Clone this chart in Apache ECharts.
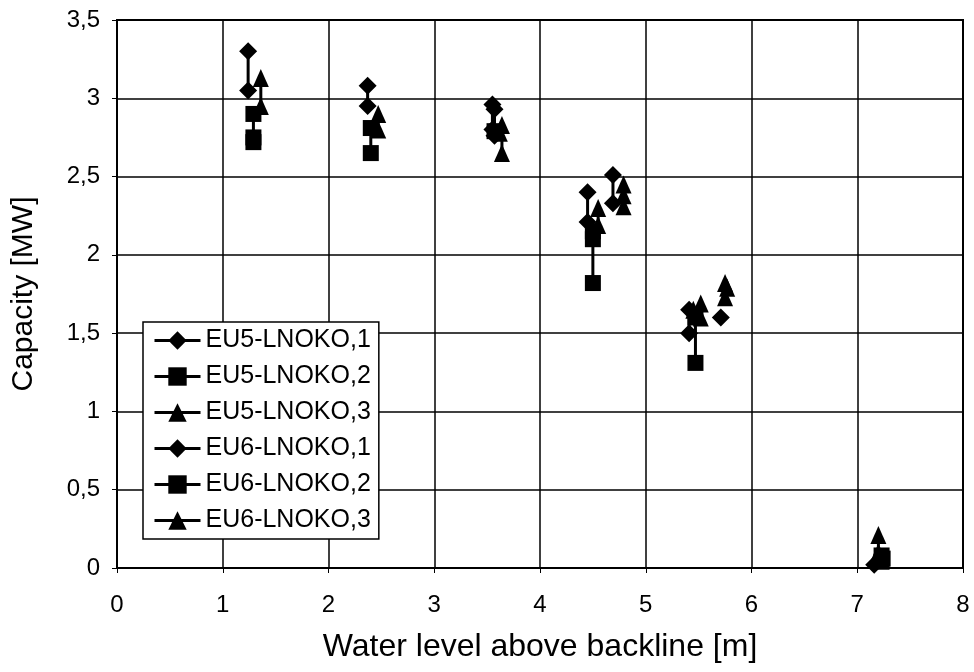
<!DOCTYPE html>
<html>
<head>
<meta charset="utf-8">
<script src="https://cdn.jsdelivr.net/npm/echarts@6/dist/echarts.min.js"></script>
<style>
html,body{margin:0;padding:0;background:#fff;}
#chart{width:974px;height:672px;}
</style>
</head>
<body>
<div id="chart"></div>
<script>
// Capacity [MW] vs water level [m]; null separates measurement groups
const seriesNames = ['EU5-LNOKO,1','EU5-LNOKO,2','EU5-LNOKO,3','EU6-LNOKO,1','EU6-LNOKO,2','EU6-LNOKO,3'];
const eu5_1 = [[1.24,3.30],[1.24,3.05],null,[2.37,3.08],[2.37,2.95],null,[3.55,2.96],[3.55,2.80],null,[4.45,2.40],[4.45,2.21],null,[5.41,1.65],[5.41,1.50],null,[7.16,0.02]];
const eu5_2 = [[1.29,2.90],[1.29,2.75],null,[2.40,2.81],[2.40,2.65],null,[4.50,2.15],[4.50,1.82],null,[5.47,1.60],[5.47,1.31],null,[7.23,0.08],[7.23,0.04]];
const eu5_3 = [[1.36,3.13],[1.36,2.95],null,[2.47,2.90],[2.47,2.80],null,[3.64,2.83],[3.64,2.65],null,[4.55,2.30],[4.55,2.19],null,[5.52,1.69],[5.52,1.60],null,[5.77,1.79],null,[7.20,0.21],[7.20,0.10]];
const eu6_1 = [[3.57,2.93],[3.57,2.76],null,[4.69,2.51],[4.69,2.33],null,[5.71,1.60]];
const eu6_2 = [[1.29,2.72],null,[3.57,2.79],null,[4.50,2.10],null,[7.24,0.06]];
const eu6_3 = [[2.44,2.83],null,[3.62,2.78],null,[4.79,2.45],[4.79,2.38],[4.79,2.31],null,[5.45,1.65],null,[5.75,1.82],[5.75,1.73]];
const xTicks = [0,1,2,3,4,5,6,7,8];
const yTicks = [0,0.5,1,1.5,2,2.5,3,3.5];

const dataSets = [eu5_1, eu5_2, eu5_3, eu6_1, eu6_2, eu6_3];
const symbols = ['diamond','rect','triangle','diamond','rect','triangle'];
const sizes = [18, 16, [16,18], 18, 16, [16,18]];

const chart = echarts.init(document.getElementById('chart'));
const fmt = v => String(v).replace('.', ',');
chart.setOption({
  animation: false,
  backgroundColor: '#fff',
  grid: {left:117, top:20, right:11, bottom:104, show:true, borderColor:'#000', borderWidth:2, backgroundColor:'transparent'},
  xAxis: {
    type:'value', min:0, max:8, interval:1,
    name:'Water level above backline [m]', nameLocation:'middle', nameGap:63, nameMoveOverlap:false,
    nameTextStyle:{fontFamily:'Liberation Sans', fontSize:32, color:'#000'},
    axisLine:{show:true, onZero:false, lineStyle:{color:'#000', width:2}},
    axisTick:{show:true, length:5, lineStyle:{color:'#000', width:1}},
    axisLabel:{fontFamily:'Liberation Sans', fontSize:24, color:'#000', margin:25, formatter: v => xTicks.includes(v) ? fmt(v) : ''},
    splitLine:{show:true, lineStyle:{color:'#000', width:1.5}}
  },
  yAxis: {
    type:'value', min:0, max:3.5, interval:0.5,
    name:'Capacity [MW]', nameLocation:'middle', nameGap:78,
    nameTextStyle:{fontFamily:'Liberation Sans', fontSize:30, color:'#000'},
    axisLine:{show:true, onZero:false, lineStyle:{color:'#000', width:2}},
    axisTick:{show:true, length:5, lineStyle:{color:'#000', width:1}},
    axisLabel:{fontFamily:'Liberation Sans', fontSize:24, color:'#000', margin:17, formatter: v => yTicks.includes(v) ? fmt(v) : ''},
    splitLine:{show:true, lineStyle:{color:'#000', width:1.5}}
  },
  legend: {
    orient:'vertical', left:143, top:322,
    data: seriesNames,
    backgroundColor:'#fff', borderColor:'#000', borderWidth:1.5,
    padding:[6,8,6,10], itemGap:11, itemWidth:46, itemHeight:23,
    lineStyle:{width:3, color:'#000'},
    textStyle:{fontFamily:'Liberation Sans', fontSize:25, color:'#000'}
  },
  series: seriesNames.map((n,i) => ({
    name:n, type:'line', data:dataSets[i], connectNulls:false,
    symbol:symbols[i], symbolSize:sizes[i], showSymbol:true,
    itemStyle:{color:'#000'}, lineStyle:{color:'#000', width:3},
    z: 3
  }))
});
</script>
</body>
</html>
